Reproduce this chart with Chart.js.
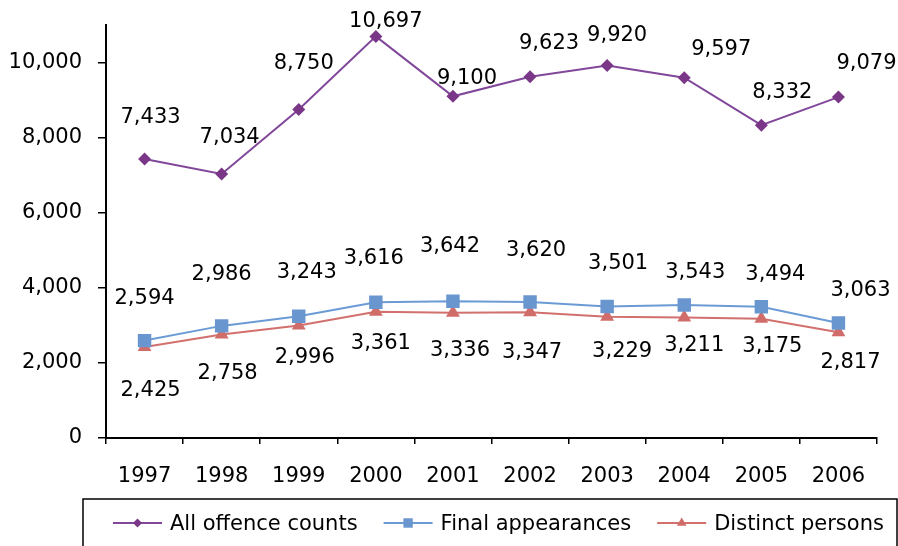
<!DOCTYPE html>
<html>
<head>
<meta charset="utf-8">
<script src="https://cdn.jsdelivr.net/npm/chart.js@4/dist/chart.umd.min.js"></script>
<style>
  html, body { margin: 0; padding: 0; background: #fff; }
</style>
</head>
<body>
<canvas id="myChart" width="898" height="546"></canvas>
<script>
const years = ['1997', '1998', '1999', '2000', '2001', '2002', '2003', '2004', '2005', '2006'];
const offenceCounts = [7433, 7034, 8750, 10697, 9100, 9623, 9920, 9597, 8332, 9079];
const finalAppearances = [2594, 2986, 3243, 3616, 3642, 3620, 3501, 3543, 3494, 3063];
const distinctPersons = [2425, 2758, 2996, 3361, 3336, 3347, 3229, 3211, 3175, 2817];
const yTicks = [0, 2000, 4000, 6000, 8000, 10000];

// where each value label sits, relative to its point (px)
const offenceLabelShift = [[6,-41],[8,-36],[5,-46],[10,-15],[14,-18],[19,-33],[10,-30],[37,-28],[21,-33],[28,-34]];
const finalLabelShift = [[0,-42],[0,-51],[8,-44],[-2,-44],[-3,-55],[6,-52],[11,-43],[11,-32],[14,-32],[22,-32]];
const personLabelShift = [[6,44],[6,39],[6,32],[5,32],[7,38],[2,40],[15,35],[10,28],[11,28],[12,30]];

Chart.defaults.font.family = '"DejaVu Sans", Verdana, sans-serif';
Chart.defaults.color = '#000';

const FONT = '21px "DejaVu Sans", Verdana, sans-serif';

const valueLabels = {
  id: 'valueLabels',
  afterDatasetsDraw(chart) {
    const ctx = chart.ctx;
    ctx.save();
    ctx.font = FONT;
    ctx.fillStyle = '#000';
    ctx.textAlign = 'center';
    ctx.textBaseline = 'middle';
    chart.data.datasets.forEach((ds, i) => {
      chart.getDatasetMeta(i).data.forEach((pt, j) => {
        const [dx, dy] = ds.labelShift[j];
        ctx.fillText(ds.data[j].toLocaleString('en-US'), pt.x + dx, pt.y + dy);
      });
    });
    ctx.restore();
  }
};

// excel style legend: line + marker, inside a bordered box
const boxLegend = {
  id: 'boxLegend',
  afterDraw(chart) {
    const ctx = chart.ctx;
    const left = 83, top = 499, right = 897;
    ctx.save();
    ctx.strokeStyle = '#000';
    ctx.lineWidth = 1.5;
    ctx.strokeRect(left, top, right - left, 80);
    ctx.font = FONT;
    ctx.textBaseline = 'middle';
    ctx.textAlign = 'left';
    let x = left + 30;
    const y = top + 24;
    chart.data.datasets.forEach(ds => {
      ctx.strokeStyle = ds.borderColor;
      ctx.lineWidth = ds.borderWidth;
      ctx.beginPath();
      ctx.moveTo(x, y);
      ctx.lineTo(x + 49, y);
      ctx.stroke();
      ctx.fillStyle = ds.backgroundColor;
      Chart.helpers.drawPoint(ctx, {pointStyle: ds.pointStyle, radius: ds.pointRadius * 0.7, borderWidth: 0, rotation: 0}, x + 24.5, y);
      ctx.fillStyle = '#000';
      ctx.fillText(ds.label, x + 57, y + 2);
      x += 57 + ctx.measureText(ds.label).width + 26;
    });
    ctx.restore();
  }
};

new Chart(document.getElementById('myChart'), {
  type: 'line',
  data: {
    labels: years,
    datasets: [
      {
        label: 'All offence counts',
        data: offenceCounts,
        borderColor: '#81479A',
        backgroundColor: '#7A3788',
        borderWidth: 2,
        pointStyle: 'rectRot',
        pointRadius: 6.5,
        pointBorderWidth: 0,
        labelShift: offenceLabelShift
      },
      {
        label: 'Final appearances',
        data: finalAppearances,
        borderColor: '#6B9BD5',
        backgroundColor: '#6A96CF',
        borderWidth: 2,
        pointStyle: 'rect',
        pointRadius: 9.5,
        pointBorderWidth: 0,
        labelShift: finalLabelShift
      },
      {
        label: 'Distinct persons',
        data: distinctPersons,
        borderColor: '#D2706E',
        backgroundColor: '#D06C6A',
        borderWidth: 2,
        pointStyle: 'triangle',
        pointRadius: 8,
        pointBorderWidth: 0,
        labelShift: personLabelShift
      }
    ]
  },
  options: {
    responsive: false,
    animation: false,
    layout: { padding: { top: 25, right: 21, bottom: 60, left: 0 } },
    plugins: {
      legend: { display: false },
      tooltip: { enabled: false }
    },
    scales: {
      x: {
        offset: true,
        grid: { offset: true, drawOnChartArea: false, tickLength: 6, color: '#000', lineWidth: 1.5 },
        border: { color: '#000', width: 2 },
        ticks: { font: { size: 21 }, padding: 20, maxRotation: 0 },
        afterFit(scale) {
          scale.height = 48;
          scale.paddingLeft = 0;
          scale.paddingRight = 0;
        }
      },
      y: {
        min: 0,
        max: 11000,
        afterBuildTicks(scale) { scale.ticks = yTicks.map(v => ({ value: v })); },
        grid: { drawOnChartArea: false, tickLength: 8, color: '#000', lineWidth: 1.5 },
        border: { color: '#000', width: 2 },
        ticks: { font: { size: 21 }, padding: 16, callback: v => v.toLocaleString('en-US') },
        afterFit(scale) {
          scale.width = 106;
          scale.paddingTop = 0;
          scale.paddingBottom = 0;
        }
      }
    }
  },
  plugins: [valueLabels, boxLegend]
});
</script>
</body>
</html>
